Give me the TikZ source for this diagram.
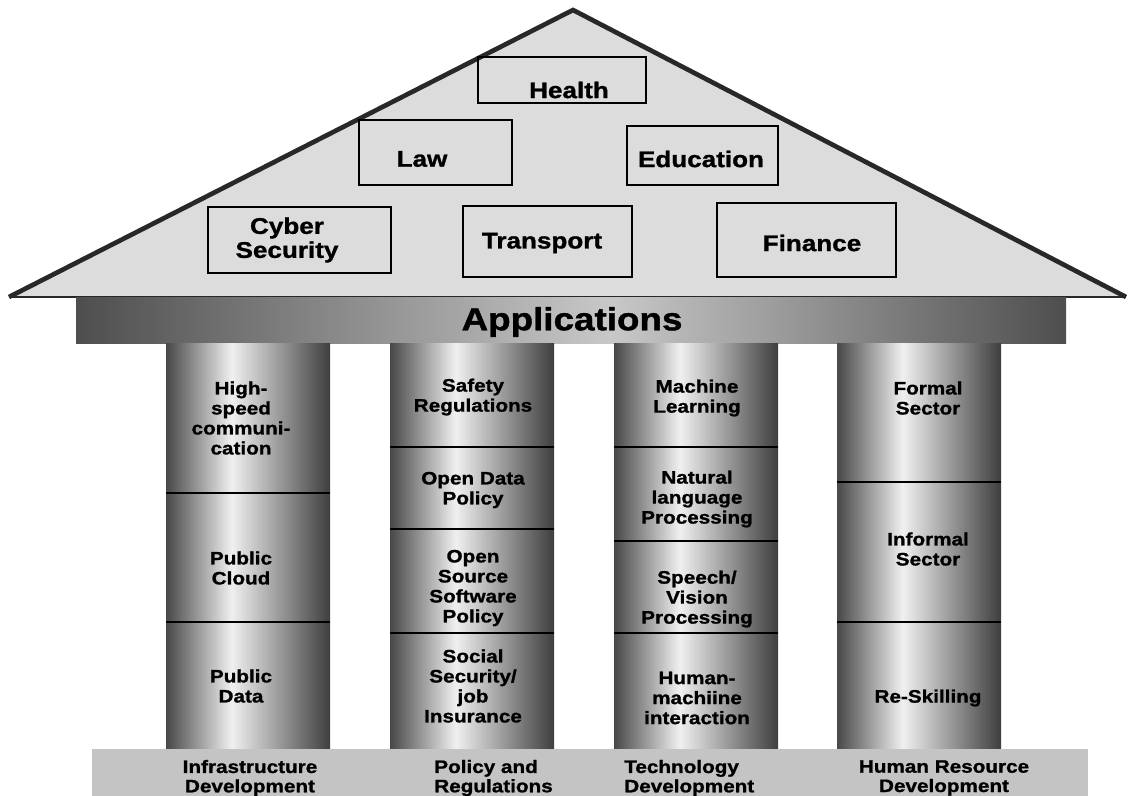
\documentclass[tikz,border=0pt]{standalone}
\usepackage{fontspec}
\setmainfont{Liberation Sans}[FakeStretch=1.15, BoldFeatures={FakeBold=1.2}]
\usepackage{tikz}
\usepackage{xcolor}

\definecolor{roofgray}{RGB}{220,220,220}
\definecolor{roofline}{RGB}{40,40,40}
\definecolor{basegray}{RGB}{196,196,196}
\definecolor{pillardark}{RGB}{72,72,72}
\definecolor{pillarlight}{RGB}{240,240,240}
\definecolor{pillarright}{RGB}{62,62,62}
\definecolor{beamdark}{RGB}{78,78,78}
\definecolor{beamlight}{RGB}{200,200,200}

\pgfdeclarehorizontalshading{pillarshade}{100bp}{color(0bp)=(pillardark); color(25bp)=(pillardark); color(45bp)=(pillarlight); color(75bp)=(pillarright); color(100bp)=(pillarright)}
\pgfdeclarehorizontalshading{beamshade}{100bp}{color(0bp)=(beamdark); color(25bp)=(beamdark); color(52bp)=(beamlight); color(75bp)=(beamdark); color(100bp)=(beamdark)}

\begin{document}
\begin{tikzpicture}[x=0.75pt,y=0.75pt,yscale=-1,xscale=1,
  roofbox/.style={draw=black, line width=2.2pt},
  rooflabel/.style={font=\fontsize{17}{18}\selectfont\bfseries, align=center, inner sep=0.75pt},
  pillarlabel/.style={font=\fontsize{13.5}{15}\selectfont\bfseries, align=center, inner sep=0.75pt},
  baselabel/.style={font=\fontsize{13.5}{14.5}\selectfont\bfseries, inner sep=0.75pt},
  divider/.style={draw=black, line width=1.5pt}]
        \useasboundingbox (0,0) rectangle (1128,796);

        %Shape: Triangle [roof]
        \fill[roofgray] (9,297) -- (573,10) -- (1126,297) -- cycle ;
        \draw[roofline, line width=1.5pt] (9,297) -- (1126,297) ;
        \draw[roofline, line width=3.5pt, line join=miter] (9,297) -- (573,10) -- (1126,297) ;

        %Shape: Rectangle [roof boxes]
        \draw[roofbox] (478,57) rectangle (646,103) ;
        \draw[roofbox] (359,120) rectangle (512,185) ;
        \draw[roofbox] (627,126) rectangle (778,185) ;
        \draw[roofbox] (208,207) rectangle (391,273) ;
        \draw[roofbox] (463,206) rectangle (632,277) ;
        \draw[roofbox] (717,203) rectangle (896,277) ;

        %Shape: Rectangle [beam]
        \shade[shading=beamshade] (76,297) rectangle (1066,343) ;

        %Shape: Rectangle [pillars]
        \foreach \px in {166,390,614,837} {
          \shade[shading=pillarshade] (\px,343) rectangle ++(164,406) ;
        }
        %Straight Lines [pillar dividers]
        \foreach \px/\dy in {166/493,166/622,390/447,390/529,390/633,614/447,614/541,614/633,837/482,837/622} {
          \draw[divider] (\px,\dy) -- ++(164,0) ;
        }

        %Shape: Rectangle [base]
        \fill[basegray] (92,749) rectangle (1088,796) ;

        % Text Node
        \draw (569,90) node (health) [rooflabel] {Health};
        % Text Node
        \draw (422,159) node (law) [rooflabel] {Law};
        % Text Node
        \draw (701,159) node (education) [rooflabel] {Education};
        % Text Node
        \draw (287,240) node (cyber) [rooflabel] {Cyber\\Security};
        % Text Node
        \draw (542,243) node (transport) [rooflabel] {Transport};
        % Text Node
        \draw (812,243) node (finance) [rooflabel] {Finance};
        % Text Node
        \draw (572,322) node (apps) [font=\fontsize{24}{26}\selectfont\bfseries, inner sep=0.75pt] {Applications};

        % Text Node
        \draw (241,418) node (highspeed) [pillarlabel] {High-\\speed\\communi-\\cation};
        % Text Node
        \draw (241,568) node (pubcloud) [pillarlabel] {Public\\Cloud};
        % Text Node
        \draw (241,686) node (pubdata) [pillarlabel] {Public\\Data};

        % Text Node
        \draw (473,397) node (safety) [pillarlabel] {Safety\\Regulations};
        % Text Node
        \draw (473,490) node (opendata) [pillarlabel] {Open Data\\Policy};
        % Text Node
        \draw (473,588) node (opensource) [pillarlabel] {Open\\Source\\Software\\Policy};
        % Text Node
        \draw (473,686) node (socsec) [pillarlabel] {Social\\Security/\\job\\Insurance};

        % Text Node
        \draw (697,398) node (ml) [pillarlabel] {Machine\\Learning};
        % Text Node
        \draw (697,499) node (nlp) [pillarlabel] {Natural\\language\\Processing};
        % Text Node
        \draw (697,599) node (speech) [pillarlabel] {Speech/\\Vision\\Processing};
        % Text Node
        \draw (697,698) node (hmi) [pillarlabel] {Human-\\machiine\\interaction};

        % Text Node
        \draw (928,398) node (formal) [pillarlabel] {Formal\\Sector};
        % Text Node
        \draw (928,549) node (informal) [pillarlabel] {Informal\\Sector};
        % Text Node
        \draw (928,698) node (reskill) [pillarlabel] {Re-Skilling};

        % Text Node
        \draw (250,778) node (infra) [baselabel, align=center] {Infrastructure\\Development};
        % Text Node
        \draw (433,778) node (policy) [baselabel, align=left, anchor=west] {Policy and\\Regulations};
        % Text Node
        \draw (623,778) node (techdev) [baselabel, align=left, anchor=west] {Technology\\Development};
        % Text Node
        \draw (944,778) node (hrdev) [baselabel, align=center] {Human Resource\\Development};

\end{tikzpicture}
\end{document}
